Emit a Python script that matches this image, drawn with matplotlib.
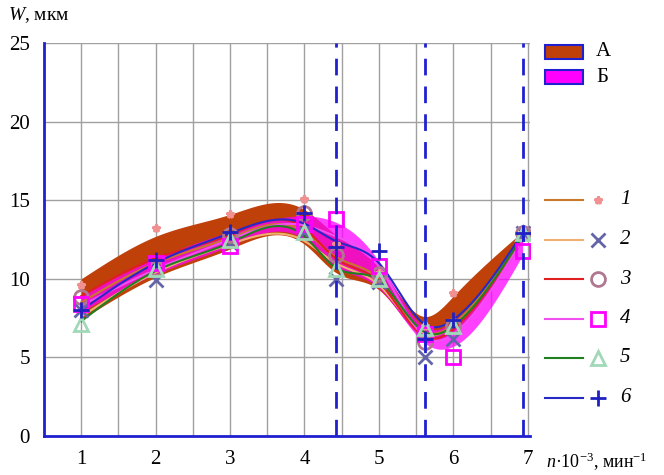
import numpy as np
import matplotlib
matplotlib.use("Agg")
import matplotlib.pyplot as plt
from matplotlib.patches import Rectangle

plt.rcParams["font.family"] = ["Liberation Serif", "DejaVu Serif"]
plt.rcParams["mathtext.fontset"] = "custom"
plt.rcParams["mathtext.rm"] = "Liberation Serif"
plt.rcParams["mathtext.it"] = "Liberation Serif:italic"

# speeds n*10^-3, 1/min
n = [1, 2, 3, 4, 4.42, 5, 5.62, 6, 6.93]
resonances = [4.42, 5.62, 6.93]

# measured points W, um (series 1..6)
pts1 = [9.6, 13.2, 14.1, 15.1, 12.2, 10.4, 7.0, 9.1, 12.9]
pts2 = [8.0, 9.9, 12.3, 13.0, 10.0, 9.8, 5.0, 6.2, 12.9]
pts3 = [8.85, 10.7, 12.8, 14.2, 11.5, 10.3, 6.0, 7.0, 12.9]
pts4 = [8.4, 11.0, 12.1, 13.5, 13.8, 10.8, 6.5, 5.0, 11.8]
pts5 = [7.1, 10.6, 12.5, 13.0, 10.6, 10.0, 6.9, 7.0, 12.9]
pts6 = [8.0, 11.2, 13.0, 14.2, 12.0, 11.8, 6.2, 7.4, 12.9]

# smoothed curves
fit1 = [8.5, 11.0, 12.6, 13.0, 11.4, 10.0, 6.6, 7.1, 12.8]
fit2 = [7.6, 10.4, 12.2, 12.4, 11.0, 9.6, 6.5, 7.0, 12.6]
fit3 = [8.9, 11.3, 12.8, 13.2, 11.3, 9.8, 6.3, 6.8, 12.7]
fit4 = [8.3, 10.6, 12.5, 13.4, 12.7, 10.8, 6.3, 6.5, 12.5]
fit5 = [7.3, 10.5, 12.3, 12.7, 10.7, 9.9, 6.6, 7.0, 12.7]
fit6 = [8.0, 11.0, 12.9, 13.5, 12.4, 11.0, 7.1, 7.4, 12.9]

# bands A and B
a_up = [10.0, 12.7, 14.1, 14.4, 12.8, 10.7, 7.6, 8.9, 13.0]
a_lo = [7.4, 10.1, 11.9, 12.2, 10.4, 9.3, 6.2, 6.6, 12.4]
b_up = [9.0, 11.3, 13.0, 14.0, 13.6, 11.1, 6.9, 7.3, 12.5]
b_lo = [7.9, 10.3, 12.1, 12.5, 10.8, 9.4, 5.9, 5.7, 11.5]

labels = ["1", "2", "3", "4", "5", "6"]
line_colors = ["#c8782a", "#f0b070", "#e02020", "#f050f0", "#208020", "#2828c8"]
mk = ["*", "x", "o", "s", "^", "+"]
mk_colors = ["#f09090", "#6464a8", "#b07890", "#ff00ff", "#a0d8b8", "#2020c0"]
mk_sizes = [6, 10, 10, 10, 10, 12]


def spline(x, y, xs):
    x = np.asarray(x, float)
    y = np.asarray(y, float)
    k = len(x)
    h = np.diff(x)
    A = np.zeros((k, k))
    b = np.zeros(k)
    A[0, 0] = A[-1, -1] = 1
    for i in range(1, k - 1):
        A[i, i - 1] = h[i - 1]
        A[i, i] = 2 * (h[i - 1] + h[i])
        A[i, i + 1] = h[i]
        b[i] = 3 * ((y[i + 1] - y[i]) / h[i] - (y[i] - y[i - 1]) / h[i - 1])
    c = np.linalg.solve(A, b)
    idx = np.clip(np.searchsorted(x, xs) - 1, 0, k - 2)
    dx = xs - x[idx]
    bb = (y[1:] - y[:-1]) / h - h * (2 * c[:-1] + c[1:]) / 3
    d = (c[1:] - c[:-1]) / (3 * h)
    return y[idx] + bb[idx] * dx + c[idx] * dx ** 2 + d[idx] * dx ** 3


fig = plt.figure(figsize=(6.64, 4.75), dpi=100)
ax = fig.add_axes([44 / 664, 1 - 436 / 475, 486 / 664, 393 / 475])
ax.set_xlim(0.5, 7.03)
ax.set_ylim(0, 25)

xs = np.linspace(n[0], n[-1], 300)
ax.fill_between(xs, spline(n, a_lo, xs), spline(n, a_up, xs), color="#c0400a", lw=0, zorder=2)
ax.fill_between(xs, spline(n, b_lo, xs), spline(n, b_up, xs), color="#ff00ff", alpha=0.75, lw=0, zorder=3)

fits = [fit1, fit2, fit3, fit4, fit5, fit6]
pts = [pts1, pts2, pts3, pts4, pts5, pts6]
for i in range(6):
    ax.plot(xs, spline(n, fits[i], xs), color=line_colors[i], lw=1.5, zorder=4)
for i in range(6):
    filled = mk[i] in ("*", "x", "+")
    ax.plot(n, pts[i], ls="none", marker=mk[i], ms=mk_sizes[i],
            mec=mk_colors[i], mfc=mk_colors[i] if filled else "none",
            mew=2, zorder=5)

for r in resonances:
    ax.axvline(r, color="#2020d0", lw=2, ls=(0, (6, 4)), zorder=6)

ticks = np.arange(0.5, 7.01, 0.5)
ax.set_xticks(ticks)
ax.set_xticklabels(["" if v % 1 else str(int(v)) for v in ticks])
ax.set_yticks([0, 5, 10, 15, 20, 25])
ax.grid(True, color="#a0a0a0", lw=1)
ax.tick_params(length=0, labelsize=15, pad=10)
for s in ["top", "right"]:
    ax.spines[s].set_visible(False)
for s in ["left", "bottom"]:
    ax.spines[s].set_color("#2020d0")
    ax.spines[s].set_linewidth(2)

fig.text(8 / 664, 1 - 15 / 475, "$W$, мкм", fontsize=14, va="center", ha="left")
fig.text(546 / 664, 1 - 462 / 475, r"$n$·10$^{-3}$, мин$^{-1}$", fontsize=13, va="center", ha="left")

# legends drawn in pixel coordinates on the right
lg = fig.add_axes([530 / 664, 0, 134 / 664, 1])
lg.set_xlim(530, 664)
lg.set_ylim(475, 0)
lg.axis("off")
for name, col, y in [("А", "#c0400a", 52), ("Б", "#ff00ff", 77)]:
    lg.add_patch(Rectangle((545, y - 7), 38, 14, facecolor=col, edgecolor="#2020d0", lw=1.5))
    lg.text(596, y, name, fontsize=15, va="center", ha="left")
for i in range(6):
    y = 200 + i * 39.5
    lg.plot([545, 583], [y, y], color=line_colors[i], lw=1.5)
    filled = mk[i] in ("*", "x", "+")
    lg.plot([598], [y], marker=mk[i], ms=mk_sizes[i], mec=mk_colors[i],
            mfc=mk_colors[i] if filled else "none", mew=2, ls="none")
    lg.text(620, y, labels[i], fontsize=15, style="italic", va="center", ha="left")

fig.savefig("out.png", dpi=100)
